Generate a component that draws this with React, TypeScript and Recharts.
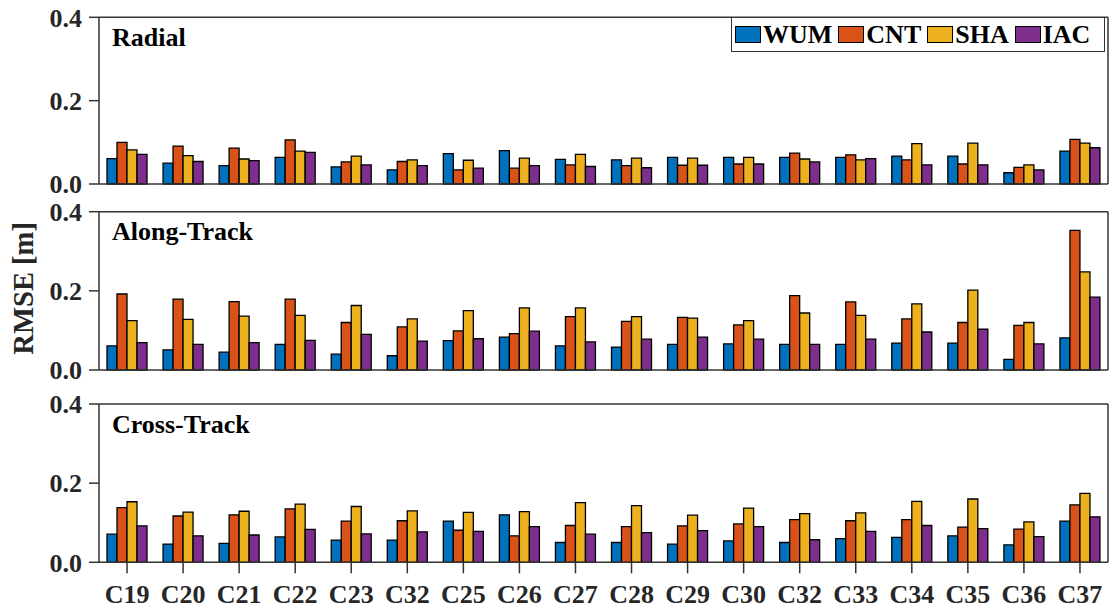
import React from 'react';
import { BarChart, Bar, XAxis, YAxis, Legend } from 'recharts';

const categories = ['C19', 'C20', 'C21', 'C22', 'C23', 'C32', 'C25', 'C26', 'C27', 'C28', 'C29', 'C30', 'C32', 'C33', 'C34', 'C35', 'C36', 'C37'];
const seriesNames = ['WUM', 'CNT', 'SHA', 'IAC'];
const seriesColors = ['#0072BD', '#D95319', '#EDB120', '#7E2F8E'];
const yTicks = [0, 0.2, 0.4];
const panelTitles = ['Radial', 'Along-Track', 'Cross-Track'];
const yLabel = 'RMSE [m]';

const radialWUM = [0.061, 0.050, 0.044, 0.064, 0.041, 0.034, 0.073, 0.080, 0.059, 0.058, 0.064, 0.064, 0.064, 0.064, 0.067, 0.067, 0.027, 0.079];
const radialCNT = [0.100, 0.091, 0.086, 0.106, 0.053, 0.054, 0.034, 0.038, 0.046, 0.044, 0.045, 0.048, 0.074, 0.070, 0.058, 0.048, 0.040, 0.107];
const radialSHA = [0.082, 0.068, 0.060, 0.079, 0.067, 0.058, 0.057, 0.062, 0.071, 0.062, 0.062, 0.064, 0.060, 0.058, 0.097, 0.098, 0.046, 0.098];
const radialIAC = [0.071, 0.054, 0.056, 0.076, 0.046, 0.044, 0.038, 0.044, 0.042, 0.039, 0.045, 0.048, 0.053, 0.061, 0.046, 0.046, 0.034, 0.087];

const alongWUM = [0.061, 0.051, 0.045, 0.065, 0.040, 0.036, 0.074, 0.083, 0.061, 0.058, 0.065, 0.066, 0.065, 0.065, 0.068, 0.068, 0.027, 0.081];
const alongCNT = [0.192, 0.179, 0.173, 0.179, 0.120, 0.109, 0.099, 0.092, 0.135, 0.123, 0.133, 0.114, 0.188, 0.172, 0.129, 0.120, 0.113, 0.353];
const alongSHA = [0.125, 0.128, 0.136, 0.138, 0.163, 0.129, 0.150, 0.157, 0.157, 0.135, 0.131, 0.125, 0.144, 0.138, 0.167, 0.202, 0.120, 0.248];
const alongIAC = [0.069, 0.065, 0.069, 0.075, 0.090, 0.073, 0.079, 0.098, 0.071, 0.078, 0.083, 0.078, 0.065, 0.078, 0.096, 0.103, 0.066, 0.184];

const crossWUM = [0.071, 0.046, 0.048, 0.064, 0.056, 0.056, 0.104, 0.120, 0.050, 0.050, 0.046, 0.054, 0.050, 0.060, 0.063, 0.067, 0.044, 0.104];
const crossCNT = [0.138, 0.117, 0.120, 0.135, 0.104, 0.105, 0.081, 0.067, 0.093, 0.090, 0.092, 0.097, 0.108, 0.105, 0.108, 0.089, 0.084, 0.145];
const crossSHA = [0.153, 0.127, 0.129, 0.147, 0.141, 0.130, 0.126, 0.128, 0.151, 0.143, 0.119, 0.137, 0.123, 0.125, 0.154, 0.160, 0.102, 0.174];
const crossIAC = [0.092, 0.067, 0.069, 0.083, 0.072, 0.077, 0.078, 0.090, 0.071, 0.075, 0.080, 0.090, 0.057, 0.078, 0.093, 0.085, 0.065, 0.115];

const buildRows = (series: number[][]) =>
  categories.map((cat, i) => {
    const row: Record<string, any> = { cat };
    seriesNames.forEach((name, s) => {
      row[name] = series[s][i];
    });
    return row;
  });

const radialData = buildRows([radialWUM, radialCNT, radialSHA, radialIAC]);
const alongData = buildRows([alongWUM, alongCNT, alongSHA, alongIAC]);
const crossData = buildRows([crossWUM, crossCNT, crossSHA, crossIAC]);

const FONT = "'Liberation Serif', 'Times New Roman', serif";
const AXIS_COLOR = '#333333';
const TEXT_COLOR = '#262626';

const tickStyle = { fontSize: 26, fontWeight: 700, fill: TEXT_COLOR, fontFamily: FONT };

const renderLegend = (props: any) => {
  const payload = [...(props.payload || [])].sort(
    (a: any, b: any) => seriesNames.indexOf(a.value) - seriesNames.indexOf(b.value)
  );
  return (
    <div
      style={{
        display: 'flex',
        alignItems: 'center',
        width: 374,
        height: 35,
        boxSizing: 'border-box',
        border: `1.5px solid ${AXIS_COLOR}`,
        background: '#fff',
        paddingLeft: 3,
      }}
    >
      {payload.map((entry: any) => (
        <div key={entry.value} style={{ display: 'flex', alignItems: 'center', marginRight: 6 }}>
          <span
            style={{
              display: 'inline-block',
              width: 26,
              height: 17,
              background: entry.color,
              border: '1.5px solid #000',
              boxSizing: 'border-box',
              marginRight: 2,
            }}
          />
          <span style={{ fontSize: 26, fontWeight: 700, fontFamily: FONT, color: '#000', lineHeight: '26px' }}>
            {entry.value}
          </span>
        </div>
      ))}
    </div>
  );
};

type PanelProps = {
  data: any[];
  title: string;
  top: number;
  height: number;
  topAxisH: number;
  bottomAxisH: number;
  showXLabels?: boolean;
  showLegend?: boolean;
  showYLabel?: boolean;
};

const Panel = ({ data, title, top, height, topAxisH, bottomAxisH, showXLabels, showLegend, showYLabel }: PanelProps) => (
  <div style={{ position: 'absolute', left: 0, top, width: 1110, height }}>
    <BarChart
      width={1110}
      height={height}
      data={data}
      margin={{ top: 0, right: 0, bottom: 0, left: 0 }}
      barGap={0}
      barSize={10}
    >
      <XAxis
        dataKey="cat"
        xAxisId={0}
        orientation="bottom"
        height={bottomAxisH}
        interval={0}
        tickSize={11}
        tickMargin={11}
        tick={showXLabels ? tickStyle : false}
        axisLine={{ stroke: AXIS_COLOR, strokeWidth: 1.5 }}
        tickLine={{ stroke: AXIS_COLOR, strokeWidth: 1.5 }}
      />
      <XAxis
        dataKey="cat"
        xAxisId="top"
        orientation="top"
        height={topAxisH}
        interval={0}
        tickSize={11}
        tick={false}
        axisLine={{ stroke: AXIS_COLOR, strokeWidth: 1.5 }}
        tickLine={{ stroke: AXIS_COLOR, strokeWidth: 1.5 }}
        label={{
          content: (p: any) => {
            const vb = p.viewBox || { x: 99, y: 0, height: topAxisH };
            return (
              <text
                x={vb.x + 13}
                y={vb.y + vb.height + 28.5}
                fontSize={26}
                fontWeight={700}
                fontFamily={FONT}
                fill="#000"
              >
                {title}
              </text>
            );
          },
        }}
      />
      <YAxis
        yAxisId={0}
        width={99}
        domain={[0, 0.4]}
        ticks={yTicks}
        interval={0}
        tickSize={10}
        tickMargin={7}
        tickFormatter={(v: number) => v.toFixed(1)}
        tick={tickStyle}
        axisLine={{ stroke: AXIS_COLOR, strokeWidth: 1.5 }}
        tickLine={{ stroke: AXIS_COLOR, strokeWidth: 1.5 }}
        label={
          showYLabel
            ? {
                content: (p: any) => {
                  const vb = p.viewBox || { x: 0, y: 0, height };
                  const cx = vb.x + 33;
                  const cy = vb.y + vb.height / 2 - 2.5;
                  return (
                    <text
                      x={cx}
                      y={cy}
                      transform={`rotate(-90, ${cx}, ${cy})`}
                      textAnchor="middle"
                      fontSize={28.6}
                      fontWeight={700}
                      fontFamily={FONT}
                      fill={TEXT_COLOR}
                    >
                      {yLabel}
                    </text>
                  );
                },
              }
            : undefined
        }
      />
      <YAxis
        yAxisId="r"
        orientation="right"
        width={2}
        domain={[0, 0.4]}
        ticks={yTicks}
        tickSize={10}
        tick={false}
        axisLine={{ stroke: AXIS_COLOR, strokeWidth: 1.5 }}
        tickLine={{ stroke: AXIS_COLOR, strokeWidth: 1.5 }}
      />
      {showLegend && (
        <Legend
          layout="horizontal"
          align="center"
          verticalAlign="middle"
          width={374}
          height={35}
          wrapperStyle={{ left: 731, top: 17, width: 374, height: 35 }}
          content={renderLegend}
        />
      )}
      {seriesNames.map((name, i) => (
        <Bar
          key={name}
          dataKey={name}
          name={name}
          xAxisId={0}
          yAxisId={0}
          fill={seriesColors[i]}
          stroke="#000"
          strokeWidth={1.3}
          isAnimationActive={false}
        />
      ))}
    </BarChart>
  </div>
);

export default function App() {
  return (
    <div style={{ position: 'absolute', left: 0, top: 0, width: 1110, height: 612, background: '#fff', overflow: 'hidden' }}>
      <Panel data={radialData} title={panelTitles[0]} top={0} height={200} topAxisH={17.3} bottomAxisH={16} showLegend />
      <Panel data={alongData} title={panelTitles[1]} top={195} height={190} topAxisH={16.7} bottomAxisH={15} showYLabel />
      <Panel data={crossData} title={panelTitles[2]} top={388} height={224} topAxisH={16} bottomAxisH={49.7} showXLabels />
    </div>
  );
}
